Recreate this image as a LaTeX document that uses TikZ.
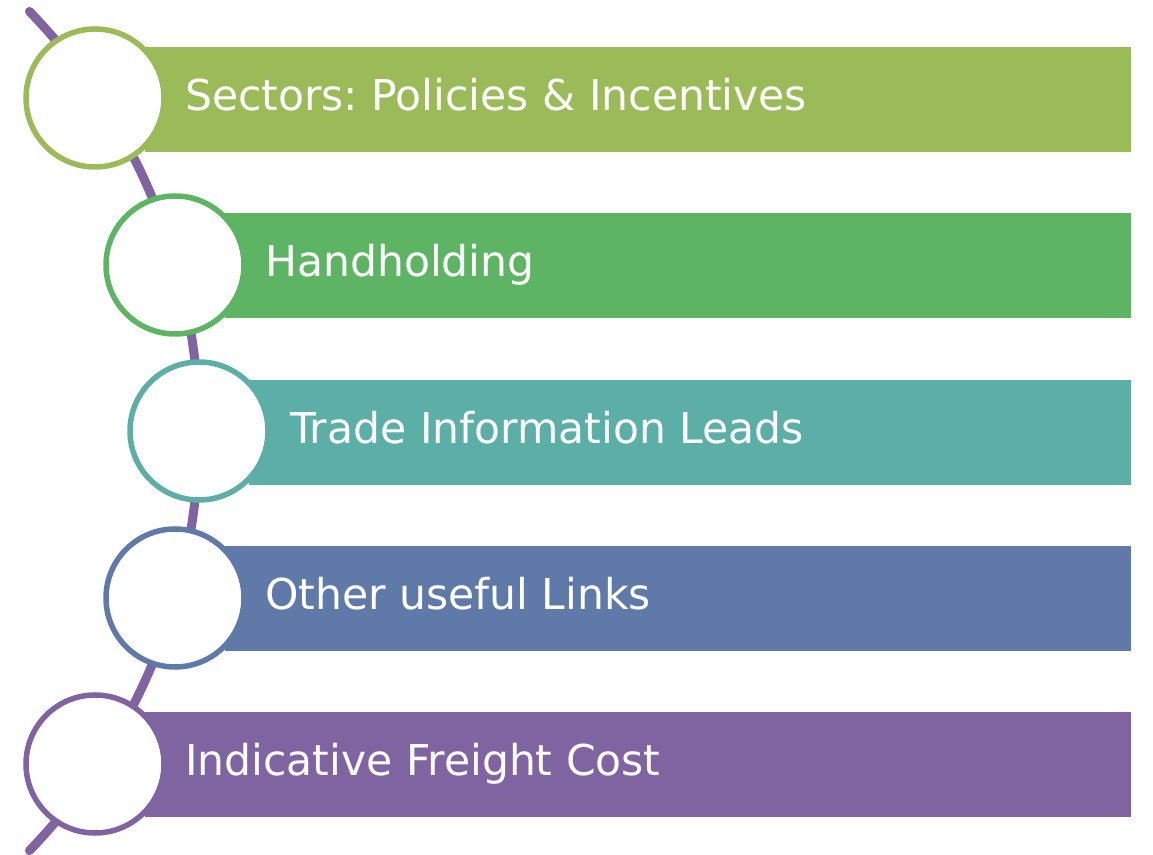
\documentclass[tikz,border=0pt]{standalone}
\usepackage{fontspec}
\setmainfont{DejaVu Sans}
\usetikzlibrary{positioning}
\frenchspacing

\definecolor{sectorgreen}{HTML}{9BBB59}
\definecolor{holdgreen}{HTML}{5DB563}
\definecolor{tradeteal}{HTML}{5BAFA6}
\definecolor{linkblue}{HTML}{5F7AA9}
\definecolor{freightpurple}{HTML}{8064A2}

\begin{document}
\begin{tikzpicture}[x=1pt, y=1pt,
  bar/.style={rectangle, anchor=west, minimum height=105pt, inner sep=0pt},
  ring/.style={circle, draw, line width=5.5pt, fill=white, minimum size=138pt, inner sep=0pt},
  caption/.style={text=white, font=\fontsize{42.5}{50}\selectfont, inner sep=0pt, text height=32pt, text depth=10pt}]
        \useasboundingbox (0,0) rectangle (1153,854);

        % spine behind the rings
        \coordinate (hub) at (-405,423);
        \draw[freightpurple, line width=9pt, line cap=round] (hub) ++(44:604) arc[start angle=44, end angle=-44, radius=604];

        \node (bar1) [bar, fill=sectorgreen, minimum width=986pt] at (145,754.5) {};
        \node (bar2) [bar, fill=holdgreen, minimum width=906pt] at (225,588.5) {};
        \node (bar3) [bar, fill=tradeteal, minimum width=882pt] at (249,421.5) {};
        \node (bar4) [bar, fill=linkblue, minimum width=906pt] at (225,255.5) {};
        \node (bar5) [bar, fill=freightpurple, minimum width=986pt] at (145,89.5) {};

        \node (text1) [caption, right=40pt of bar1.west] {Sectors: Policies \& Incentives};
        \node (text2) [caption, right=40pt of bar2.west] {Handholding};
        \node (text3) [caption, right=41pt of bar3.west] {Trade Information Leads};
        \node (text4) [caption, right=40pt of bar4.west] {Other useful Links};
        \node (text5) [caption, right=40pt of bar5.west] {Indicative Freight Cost};

        \node (ring1) [ring, draw=sectorgreen] at (95,756) {};
        \node (ring2) [ring, draw=holdgreen] at (175,589) {};
        \node (ring3) [ring, draw=tradeteal] at (199,423) {};
        \node (ring4) [ring, draw=linkblue] at (175,256) {};
        \node (ring5) [ring, draw=freightpurple] at (95,90) {};
    \end{tikzpicture}
\end{document}
